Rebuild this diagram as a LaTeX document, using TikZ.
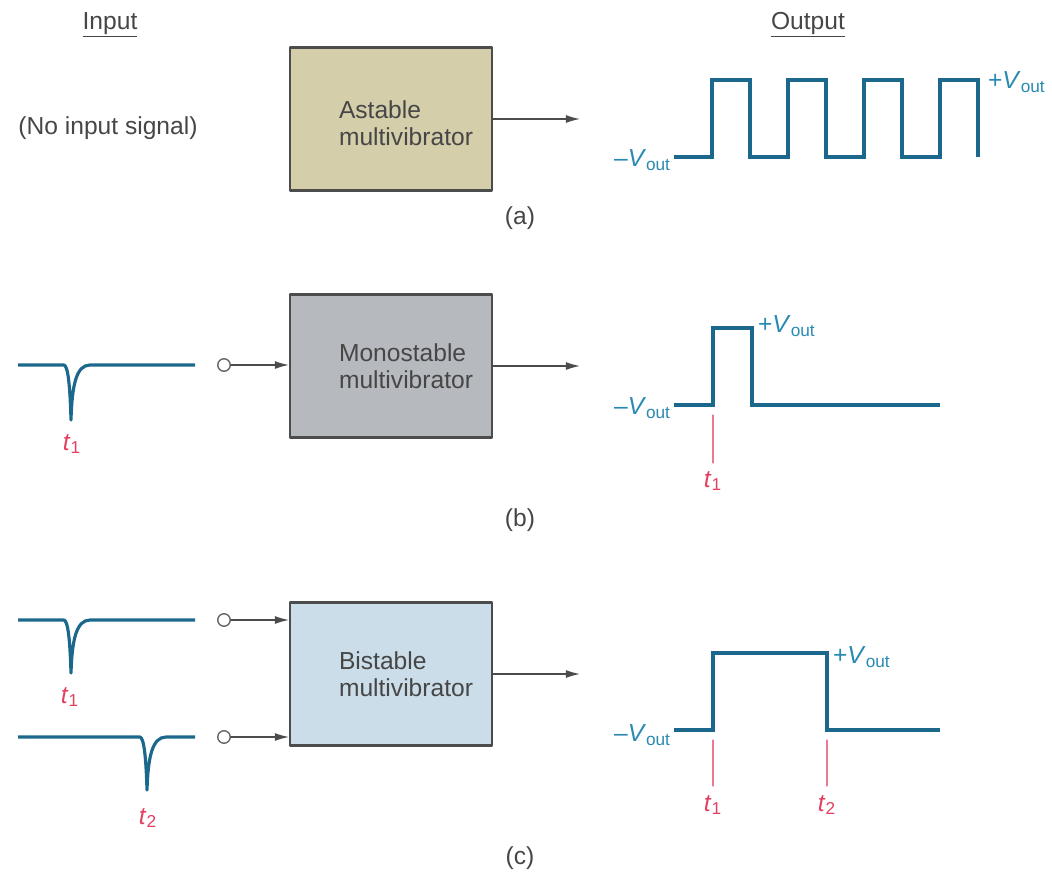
\documentclass[tikz,border=0pt]{standalone}
\usepackage{fontspec}
\setmainfont{Liberation Sans}
\usepackage{xcolor}
\usepackage{tikz}
\usetikzlibrary{arrows.meta}
\usetikzlibrary{calc}

\definecolor{wavecol}{RGB}{28,104,140}
\definecolor{vcol}{RGB}{40,138,178}
\definecolor{tcol}{RGB}{226,64,96}
\definecolor{tanfill}{RGB}{213,206,170}
\definecolor{grayfill}{RGB}{182,186,191}
\definecolor{bluefill}{RGB}{202,221,232}
\definecolor{txtcol}{RGB}{70,70,70}

\newcommand{\vout}{\textit{V}\textsubscript{out}}
\newcommand{\tsub}[1]{\textit{t}\textsubscript{#1}}

\begin{document}
\begin{tikzpicture}[x=0.02cm, y=-0.02cm, line cap=round, line join=round,
    font=\fontsize{14}{15.5}\selectfont,
    mvbox/.style={draw=black!70, line width=1.2pt, minimum width=4.04cm, minimum height=2.86cm, inner sep=0pt},
    boxtext/.style={align=left, text=txtcol, inner sep=0pt},
    wave/.style={wavecol, line width=1.8pt, line cap=butt, line join=miter},
    spike/.style={wavecol, line width=1.8pt, line cap=butt, line join=round},
    sig/.style={-{Latex[length=8pt,width=4.5pt]}, black!70, line width=0.7pt},
    term/.style={circle, draw=black!60, line width=0.8pt, fill=white, minimum size=0.25cm, inner sep=0pt},
    tick/.style={tcol!70, line width=0.6pt},
    tlab/.style={text=tcol, inner sep=1pt},
    vlab/.style={text=vcol, inner sep=1pt},
    plain/.style={text=txtcol}]

    \useasboundingbox (0,0) rectangle (1052,873);

    \node[plain] (inhead) at (110,25) {\underline{Input}};
    \node[plain] (outhead) at (808,25) {\underline{Output}};

    % (a)
    \node[plain] (nosig) at (108,128) {(No input signal)};
    \node[mvbox, fill=tanfill] (astable) at (391,119) {};
    \node[boxtext] (astabletxt) at ($(astable.center)+(15,4)$) {Astable\\multivibrator};
    \coordinate (aout) at (580,119);
    \draw[sig] (astable.east) -- (aout);

    \draw[wave] (674,157) -- (712,157) -- (712,80) -- (750,80) -- (750,157)
        -- (788,157) -- (788,80) -- (826,80) -- (826,157)
        -- (864,157) -- (864,80) -- (902,80) -- (902,157)
        -- (940,157) -- (940,80) -- (978,80) -- (978,157);
    \node[vlab, anchor=east] (aminus) at (673,160) {\textendash\vout};
    \node[vlab, anchor=west] (aplus) at (986,82) {+\vout};
    \node[plain] (capa) at (520,218) {(a)};

    % (b)
    \draw[spike] (18,365) -- (64,365) .. controls (68,366) and (70,385) .. (71,420)
        .. controls (72,386) and (76,365) .. (90,365) -- (195,365);
    \node[tlab] (bt1in) at (72,444) {\tsub{1}};
    \node[term] (bin) at (224,365) {};
    \node[mvbox, fill=grayfill] (mono) at (391,366) {};
    \node[boxtext] (monotxt) at ($(mono.center)+(15,0)$) {Monostable\\multivibrator};
    \draw[sig] (bin) -- (bin -| mono.west);
    \coordinate (bout) at (580,366);
    \draw[sig] (mono.east) -- (bout);

    \draw[wave] (674,405) -- (713,405) -- (713,328) -- (752,328) -- (752,405) -- (940,405);
    \draw[tick] (713,415) -- (713,463);
    \node[tlab] (bt1out) at (713,481) {\tsub{1}};
    \node[vlab, anchor=east] (bminus) at (673,408) {\textendash\vout};
    \node[vlab, anchor=west] (bplus) at (756,326) {+\vout};
    \node[plain] (capb) at (520,520) {(b)};

    % (c)
    \draw[spike] (18,620) -- (64,620) .. controls (68,621) and (70,640) .. (71,673)
        .. controls (72,641) and (76,620) .. (90,620) -- (195,620);
    \node[tlab] (ct1in) at (70,697) {\tsub{1}};
    \draw[spike] (18,737) -- (140,737) .. controls (144,738) and (146,757) .. (147,790)
        .. controls (148,758) and (152,737) .. (166,737) -- (195,737);
    \node[tlab] (ct2in) at (148,818) {\tsub{2}};
    \node[term] (cin1) at (224,620) {};
    \node[term] (cin2) at (224,737) {};
    \node[mvbox, fill=bluefill] (bistable) at (391,674) {};
    \node[boxtext] (bistabletxt) at ($(bistable.center)+(15,0)$) {Bistable\\multivibrator};
    \draw[sig] (cin1) -- (cin1 -| bistable.west);
    \draw[sig] (cin2) -- (cin2 -| bistable.west);
    \coordinate (cout) at (580,674);
    \draw[sig] (bistable.east) -- (cout);

    \draw[wave] (674,730) -- (713,730) -- (713,653) -- (827,653) -- (827,730) -- (940,730);
    \draw[tick] (713,740) -- (713,786);
    \draw[tick] (827,740) -- (827,786);
    \node[tlab] (ct1out) at (713,805) {\tsub{1}};
    \node[tlab] (ct2out) at (827,805) {\tsub{2}};
    \node[vlab, anchor=east] (cminus) at (673,735) {\textendash\vout};
    \node[vlab, anchor=west] (cplus) at (831,657) {+\vout};
    \node[plain] (capc) at (520,858) {(c)};

\end{tikzpicture}
\end{document}
